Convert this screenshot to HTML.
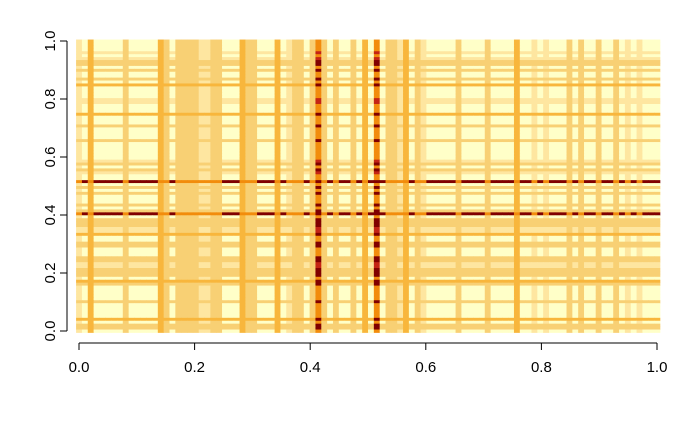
<!DOCTYPE html>
<html><head><meta charset="utf-8"><style>
body{margin:0;background:#fff;}
svg{display:block;font-family:"Liberation Sans",sans-serif;}
svg text{font-size:15px;}
</style></head><body>
<svg id="chart" width="700" height="432" viewBox="0 0 700 432"></svg>
<script>
const colLevels=[1,0,3,0,0,0,0,0,2,0,0,0,0,0,3,2,0,2,2,2,2,1,1,2,2,0,0,0,3,2,2,0,0,0,3,0,1,2,2,0,2,4,2,0,2,0,0,2,0,3,0,4,0,2,2,1,3,0,2,1,0,0,0,0,0,2,0,0,0,0,2,0,0,0,0,3,0,0,1,0,1,0,0,0,2,0,2,0,0,2,0,0,2,0,1,0,1,0,0,0];
const rowLevelsTopDown=[0,0,0,0,1,0,1,2,2,0,2,0,0,2,0,3,0,0,0,0,1,1,0,0,0,3,0,0,0,2,0,0,0,0,2,0,0,0,0,0,0,1,2,0,2,1,0,0,4,0,2,0,2,0,0,0,2,0,2,4,0,2,2,2,1,1,3,0,0,2,2,0,0,0,2,2,1,1,2,2,2,0,3,2,0,0,0,0,0,2,0,0,0,0,0,3,0,2,2,0];
const xTicks=["0.0","0.2","0.4","0.6","0.8","1.0"];
const yTicks=["0.0","0.2","0.4","0.6","0.8","1.0"];
const palette=["#FFFFC8","#FEE6A0","#F8D074","#F8B63C","#F28C0C","#C42414","#800000"];
const NS="http://www.w3.org/2000/svg";
const svg=document.getElementById('chart');
const X0=79,X1=657,Y0=331,Y1=41;
const nC=colLevels.length,nR=rowLevelsTopDown.length;
const cw=(X1-X0)/(nC-1),rh=(Y0-Y1)/(nR-1);
function xs(v){return X0+v*(X1-X0);}
function ys(v){return Y0-v*(Y0-Y1);}
function mk(t,a){const e=document.createElementNS(NS,t);for(const k in a)e.setAttribute(k,a[k]);svg.appendChild(e);return e;}
function lvl(c,r){
  if(c>=4&&r>=4)return 6;
  if(r>=4)return c===0?6:4;
  if(c>=4)return r===0?4:(r===1?5:6);
  return Math.max(c,r);
}
for(let r=0;r<nR;r++){
  const yv=1-r/(nR-1);
  for(let c=0;c<nC;c++){
    const xv=c/(nC-1);
    const e=mk('rect',{x:(xs(xv)-cw/2).toFixed(2),y:(ys(yv)-rh/2).toFixed(2),width:(cw+0.4).toFixed(2),height:(rh+0.4).toFixed(2),fill:palette[lvl(colLevels[c],rowLevelsTopDown[r])]});
    
    
  }
}
let ax=mk('line',{x1:X0,y1:343,x2:X1,y2:343,stroke:'#000'});

xTicks.forEach((t,i)=>{
  const v=i/(xTicks.length-1),x=xs(v);
  mk('line',{x1:x,y1:343,x2:x,y2:350,stroke:'#000'});
  const tx=mk('text',{x:x,y:372,'text-anchor':'middle'});tx.textContent=t;
  
});
let ay=mk('line',{x1:67,y1:Y0,x2:67,y2:Y1,stroke:'#000'});

yTicks.forEach((t,i)=>{
  const v=i/(yTicks.length-1),y=ys(v);
  mk('line',{x1:60,y1:y,x2:67,y2:y,stroke:'#000'});
  const tx=mk('text',{x:55,y:y,'text-anchor':'middle',transform:`rotate(-90 55 ${y})`});tx.textContent=t;
  
});
</script>
</body></html>
